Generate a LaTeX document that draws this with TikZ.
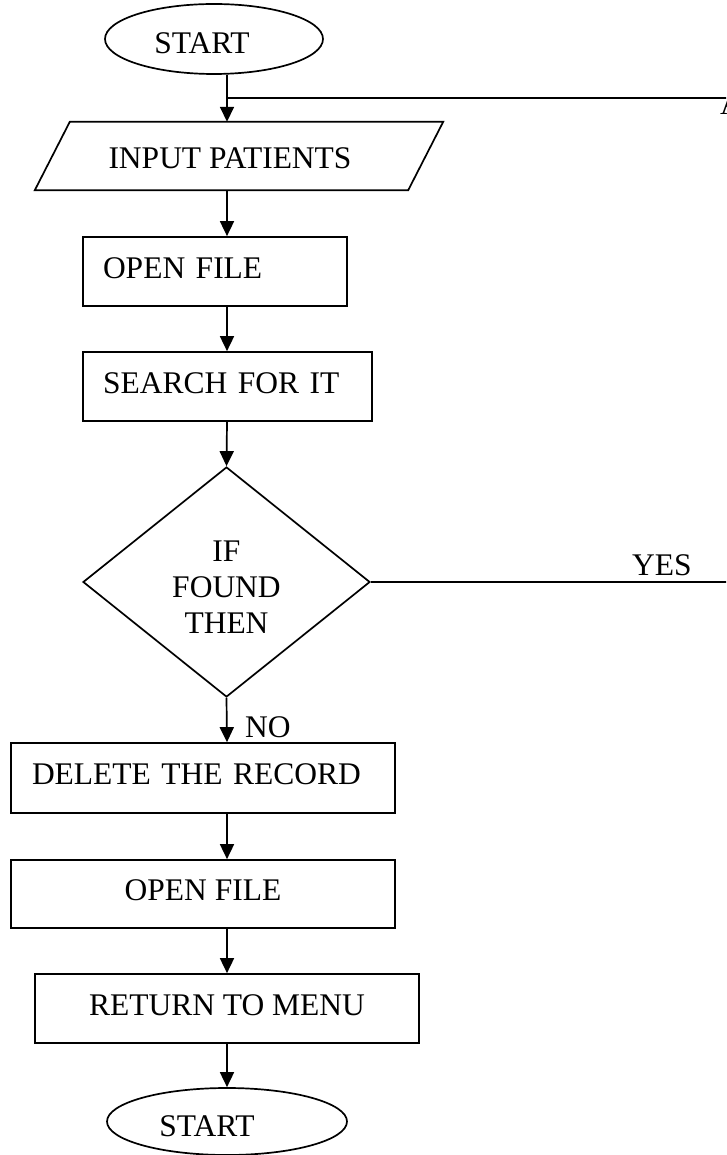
\documentclass[tikz,border=0pt]{standalone}
\usepackage{fontspec}
\setmainfont{Liberation Serif}
\usetikzlibrary{shapes.geometric,arrows.meta}
\begin{document}
\begin{tikzpicture}[x=1pt,y=1pt,
  every node/.style={font=\fontsize{31.5}{36}\selectfont},
  flow/.style={line width=1.7pt},
  arr/.style={flow,-{Triangle[length=15pt,width=14pt]}},
  box/.style={draw,rectangle,line width=1.7pt,minimum height=69pt,inner ysep=0pt,text depth=7pt},
  lbox/.style={box,align=left,inner xsep=20pt},
  terminal/.style={draw,ellipse,line width=1.7pt,inner sep=0pt,text height=29pt,text depth=0pt},
  decision/.style={draw,diamond,line width=1.7pt,inner sep=0pt,minimum width=287pt,minimum height=230pt},
  tag/.style={inner sep=0pt,anchor=base west}
]
\path[use as bounding box] (0,0) rectangle (726,-1155);
\clip (0,0) rectangle (726,-1155);

% main flow line runs down x = 227
\coordinate (spine) at (227,0);

% start terminal (label sits a little left of the oval's centre)
\node[terminal,minimum width=218pt,minimum height=70pt] (start1) at (214,-39) {START\hspace*{24pt}};

% input parallelogram: frame node plus slanted outline
\node[rectangle,minimum width=373pt,minimum height=68pt,inner sep=0pt] (inputframe) at (256.5,-156) {};
\draw[flow] (inputframe.north west) -- (inputframe.north east)
  -- ([xshift=-35pt]inputframe.south east) -- ([xshift=-35pt]inputframe.south west) -- cycle;
\node (input) at (230,-158) {INPUT PATIENTS};

% process boxes
\node[lbox,text width=224pt] (open1) at (215,-271.5) {OPEN FILE};
\node[lbox,text width=249pt] (search) at (227.5,-386.5) {SEARCH FOR IT};
\node[decision,label={[name=dectext,align=center,yshift=-5pt]center:IF\\FOUND\\THEN}] (dec) at (226.5,-582) {};
\node[lbox,inner xsep=21pt,text width=342pt,minimum height=70pt] (delete) at (203,-778) {DELETE THE RECORD};
\node[box,minimum width=384pt,minimum height=68pt] (open2) at (203,-894) {OPEN FILE};
\node[box,minimum width=384pt] (ret) at (227,-1008.5) {RETURN TO MENU};
\node[terminal,minimum width=240pt,minimum height=67pt] (start2) at (227,-1121.5) {START\hspace*{40pt}};

% connectors
\coordinate (junction) at (227,-98);
\coordinate (topout) at (760,-98);
\coordinate (yesout) at (760,-582);
\draw[arr] (start1.south -| spine) -- (inputframe.north -| spine);
\draw[flow] (junction) -- (topout);
\draw[arr] (inputframe.south -| spine) -- (open1.north -| spine);
\draw[arr] (open1.south -| spine) -- (search.north -| spine);
\draw[arr] (search.south -| spine) -- (dec.north);
\draw[arr] (dec.south) -- (delete.north -| spine);
\draw[flow] (dec.east) -- (yesout);
\draw[arr] (delete.south -| spine) -- (open2.north -| spine);
\draw[arr] (open2.south -| spine) -- (ret.north -| spine);
\draw[arr] (ret.south -| spine) -- (start2.north -| spine);

% connector labels
\node[tag] (yes) at (632,-575.5) {YES};
\node[tag] (no) at (245,-737.5) {NO};
\node[tag] (offpage) at (720,-115) {A};
\end{tikzpicture}
\end{document}
